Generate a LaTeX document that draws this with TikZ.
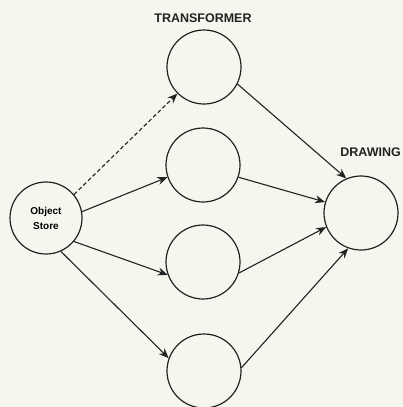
\documentclass[tikz,border=0pt]{standalone}
\usepackage{fontspec}
\setmainfont{Liberation Sans}
\usetikzlibrary{arrows.meta}
\definecolor{paper}{HTML}{F7F6EE}
\definecolor{ink}{HTML}{222222}
\begin{document}
\begin{tikzpicture}[x=1pt,y=-1pt,
  circ/.style={circle,draw=ink,line width=1.2pt,minimum size=74pt,inner sep=0pt},
  conn/.style={draw=ink,line width=1.1pt,-{Stealth[length=10pt,width=8pt]}},
  lbl/.style={font=\fontsize{12.5}{14}\selectfont\bfseries,text=ink,inner sep=0pt}]
\fill[paper] (0,0) rectangle (403,407);
\useasboundingbox (0,0) rectangle (403,407);
\node[circ,minimum size=72pt,align=center,font=\fontsize{10}{15}\selectfont\bfseries] (os) at (46,218) {Object\\Store};
\node[circ] (t1) at (204,67) {};
\node[circ] (t2) at (203,165) {};
\node[circ] (t3) at (203,262) {};
\node[circ] (t4) at (204,371) {};
\node[circ] (d) at (361,213) {};
\node[lbl] (tl) at (203,18) {TRANSFORMER};
\node[lbl,anchor=east] (dl) at (401,152) {DRAWING};
\draw[conn,dash pattern=on 4pt off 2.5pt] (os.40) -- (t1.225);
\draw[conn] (os.10) -- (t2.199);
\draw[conn] (os.320) -- (t3.200);
\draw[conn] (os.294) -- (t4.160);
\draw[conn] (t1.333) -- (d.113);
\draw[conn] (t2.341) -- (d.163);
\draw[conn] (t3.343) -- (d.202);
\draw[conn] (t4.5) -- (d.250);
\end{tikzpicture}
\end{document}
